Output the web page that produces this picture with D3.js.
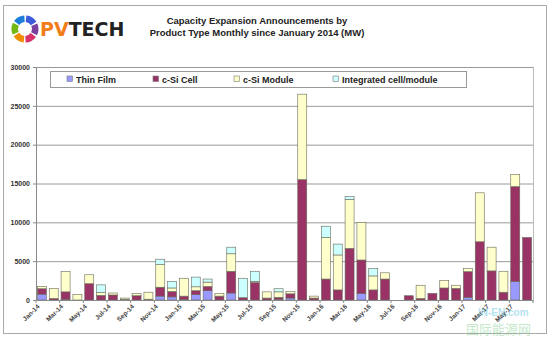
<!DOCTYPE html>
<html><head><meta charset="utf-8">
<script src="https://cdn.jsdelivr.net/npm/d3@7"></script>
<style>body{margin:0;background:#fff}svg{display:block}</style>
</head><body>
<script>
const months = ["Jan-14","Feb-14","Mar-14","Apr-14","May-14","Jun-14","Jul-14","Aug-14","Sep-14","Oct-14","Nov-14","Dec-14",
"Jan-15","Feb-15","Mar-15","Apr-15","May-15","Jun-15","Jul-15","Aug-15","Sep-15","Oct-15","Nov-15","Dec-15",
"Jan-16","Feb-16","Mar-16","Apr-16","May-16","Jun-16","Jul-16","Aug-16","Sep-16","Oct-16","Nov-16","Dec-16",
"Jan-17","Feb-17","Mar-17","Apr-17","May-17","Jun-17"];
const thinFilm = [750,0,100,0,0,0,0,100,0,0,500,400, 100,700,1200,0,900,0,0,0,100,250,0,0, 0,0,0,850,0,0,0,0,0,0,0,0, 350,0,0,0,2400,0];
const siCell   = [700,200,950,0,2100,600,650,0,550,100,1150,700, 400,500,550,500,2800,300,2250,250,250,550,15500,250, 2700,1300,6650,4300,1300,2700,0,550,200,850,1550,1500, 3300,7500,3750,1000,12200,8050];
const siModule = [300,1300,2600,700,1150,350,250,150,300,900,2900,450, 2300,500,550,350,2250,0,150,800,700,300,11000,250, 5350,4500,6300,4850,1800,800,0,0,1700,0,950,400, 400,6300,3050,2700,1550,0];
const integrated = [0,0,0,0,0,1000,0,0,0,0,700,850, 0,1250,400,0,850,2500,1300,0,400,0,0,0, 1450,1400,400,0,950,0,0,0,0,0,0,0, 0,0,0,0,0,0];
const seriesNames = ["Thin Film","c-Si Cell","c-Si Module","Integrated cell/module"];
const seriesColors = ["#9999FF","#993366","#FFFFCC","#CCFFFF"];
const yTicks = [0,5000,10000,15000,20000,25000,30000];

const W = 554, H = 343;
const svg = d3.select("body").append("svg").attr("width", W).attr("height", H)
  .style("font-family", "'Liberation Sans', Arial, sans-serif");

// outer frame
svg.append("rect").attr("x",3.5).attr("y",5.5).attr("width",543).attr("height",328)
  .attr("fill","#fff").attr("stroke","#aaa").attr("stroke-width",1);

// logo
const logo = svg.append("g").attr("transform","translate(25,29)");
const arcCols = ["#3b5bdb","#7b3fa0","#d6336c","#f08c00","#74b816","#1c7ed6"];
const arcGen = d3.arc().innerRadius(7).outerRadius(13.5);
arcCols.forEach((c,i)=>{
  logo.append("path").attr("d", arcGen({startAngle: i*Math.PI/3+0.1, endAngle:(i+1)*Math.PI/3-0.05})).attr("fill", c);
});
const logoText = svg.append("text").attr("x",40).attr("y",36).attr("font-size",19).attr("font-weight","bold")
  .style("font-family","'DejaVu Sans', sans-serif");
logoText.append("tspan").attr("fill","#f07d1a").text("PV");
logoText.append("tspan").attr("fill","#222").text("TECH");

// title
svg.append("text").attr("x",257).attr("y",24).attr("text-anchor","middle").attr("font-size",9.5)
  .attr("font-weight","bold").attr("fill","#222").text("Capacity Expansion Announcements by");
svg.append("text").attr("x",257).attr("y",36).attr("text-anchor","middle").attr("font-size",9.5)
  .attr("font-weight","bold").attr("fill","#222").text("Product Type Monthly since January 2014 (MW)");

// scales
const x = d3.scaleBand().domain(months).range([36,533]).paddingInner(0.24).paddingOuter(0.12);
const y = d3.scaleLinear().domain([0,30000]).range([300,67]);

// gridlines
svg.append("g").selectAll("line").data(yTicks.filter(d=>d>0)).join("line")
  .attr("x1",36).attr("x2",533).attr("y1",d=>y(d)+0.5).attr("y2",d=>y(d)+0.5)
  .attr("stroke","#9a9a9a").attr("stroke-width",1);
svg.append("line").attr("x1",533.5).attr("x2",533.5).attr("y1",67).attr("y2",300).attr("stroke","#bbb");

// stacked bars
const table = months.map((m,i)=>({month:m, s0:thinFilm[i], s1:siCell[i], s2:siModule[i], s3:integrated[i]}));
const stack = d3.stack().keys(["s0","s1","s2","s3"]);
const layers = stack(table);
const g = svg.append("g");
layers.forEach((layer,k)=>{
  g.append("g").selectAll("rect").data(layer.filter(d=>d[1]-d[0]>0)).join("rect")
    .attr("x",d=>x(d.data.month)).attr("width",x.bandwidth())
    .attr("y",d=>y(d[1])).attr("height",d=>y(d[0])-y(d[1]))
    .attr("fill",seriesColors[k]).attr("stroke","#6a6a5a").attr("stroke-width",0.6);
});

// y axis
const yAxis = d3.axisLeft(y).tickValues(yTicks).tickSize(3).tickFormat(d3.format("d"));
const ya = svg.append("g").attr("transform","translate(36,0)").call(yAxis);
ya.select(".domain").attr("stroke","#888");
ya.selectAll(".tick line").attr("stroke","#888");
ya.selectAll("text").attr("font-size",7).attr("font-weight","bold").attr("fill","#333")
  .style("font-family","'Liberation Sans', Arial, sans-serif");

// x axis
const xAxis = d3.axisBottom(x).tickValues(months.filter((d,i)=>i%2===0)).tickSize(0);
const xa = svg.append("g").attr("transform","translate(0,300)").call(xAxis);
xa.select(".domain").attr("stroke","#888");
xa.selectAll("text").attr("font-size",6.5).attr("font-weight","bold").attr("fill","#444")
  .style("font-family","'Liberation Sans', Arial, sans-serif")
  .attr("text-anchor","end").attr("transform","translate(-5,4) rotate(-45)").attr("dy","0.35em").attr("y",2);
svg.append("g").selectAll("line").data(d3.range(0,43,2)).join("line")
  .attr("x1",i=>36+i*(497/42)).attr("x2",i=>36+i*(497/42)).attr("y1",300).attr("y2",303)
  .attr("stroke","#888");

// legend
const lg = svg.append("g");
lg.append("rect").attr("x",50.5).attr("y",71.5).attr("width",416).attr("height",16)
  .attr("fill","#fff").attr("stroke","#999");
const legX = [67,153,234,333];
seriesNames.forEach((n,k)=>{
  lg.append("rect").attr("x",legX[k]).attr("y",76).attr("width",5.5).attr("height",5.5)
    .attr("fill",seriesColors[k]).attr("stroke","#777").attr("stroke-width",0.6);
  lg.append("text").attr("x",legX[k]+9).attr("y",82.5).attr("font-size",9).attr("font-weight","bold")
    .attr("fill","#222").text(n);
});

// watermark
const wm = svg.append("g").attr("opacity",0.45);
wm.append("text").attr("x",478).attr("y",316).attr("font-size",10).attr("font-weight","bold").attr("fill","#5bc0de").text("IN-EN.com");
wm.append("text").attr("x",466).attr("y",334).attr("font-size",13).attr("fill","#7ccf8a")
  .style("font-family","'Noto Sans CJK SC', sans-serif").text("国际能源网");
</script>
</body></html>
